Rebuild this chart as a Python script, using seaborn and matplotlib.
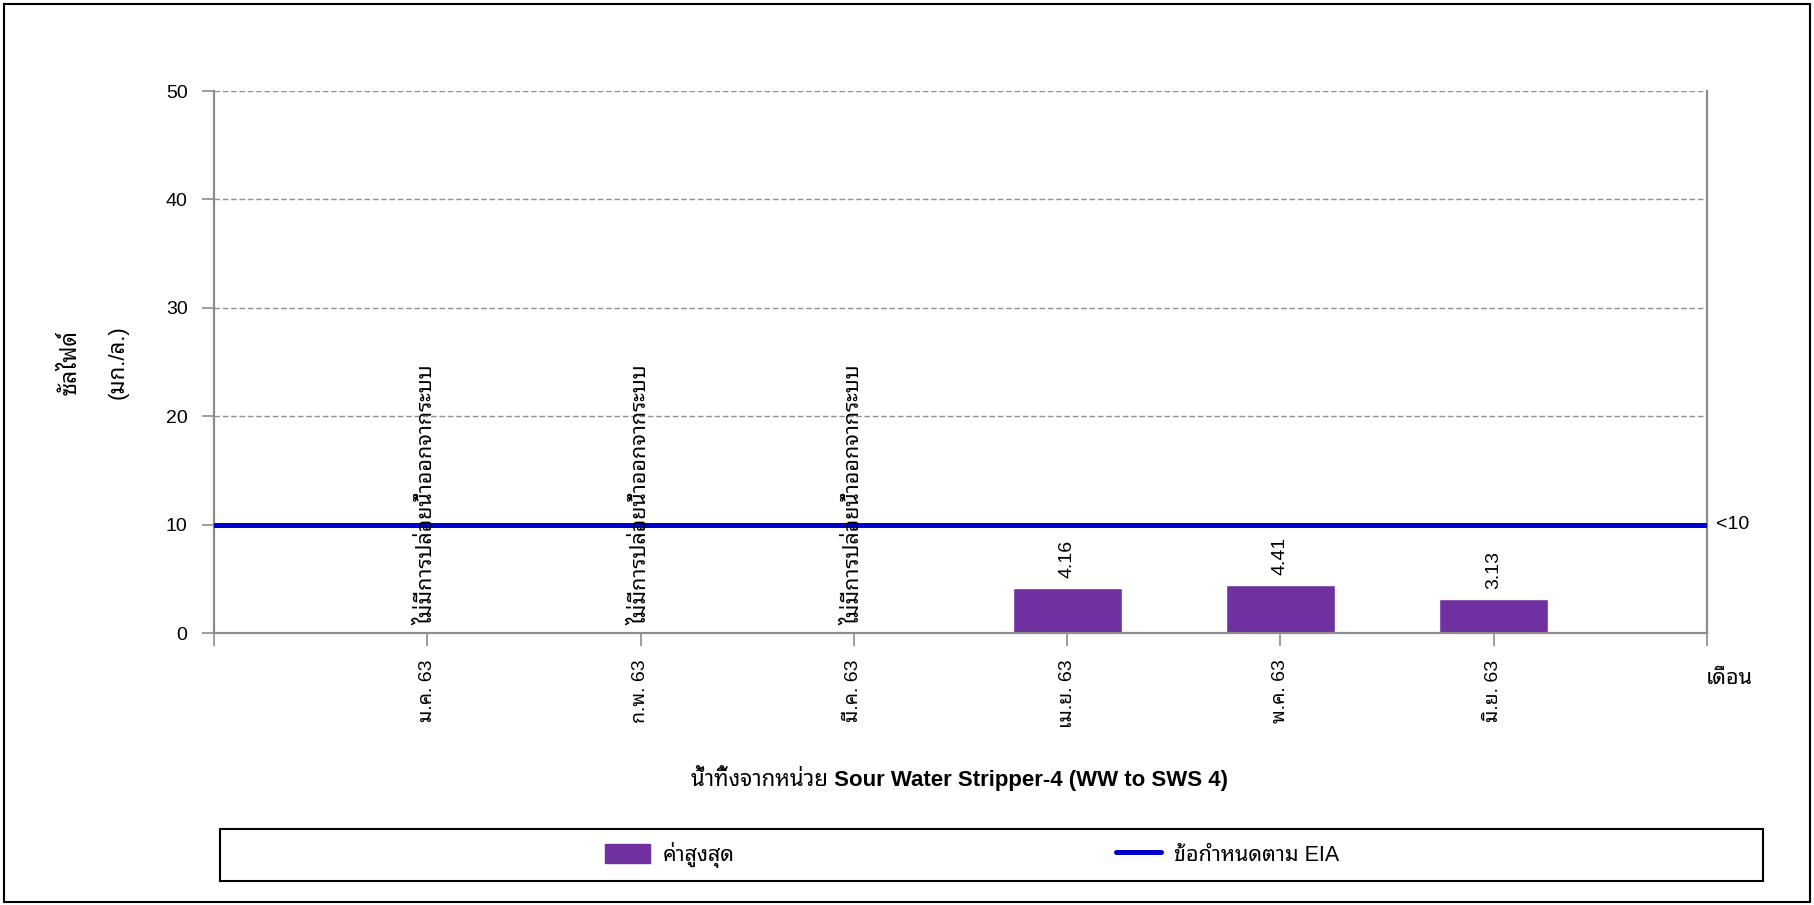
import matplotlib
matplotlib.use("Agg")
import matplotlib.pyplot as plt
import matplotlib.transforms as mtransforms
from matplotlib.patches import Patch, Rectangle
from matplotlib.lines import Line2D
import pandas as pd
import seaborn as sns

# ---- data ----
months = ["ม.ค. 63", "ก.พ. 63", "มี.ค. 63", "เม.ย. 63", "พ.ค. 63", "มิ.ย. 63"]
max_values = [None, None, None, 4.16, 4.41, 3.13]
no_discharge_text = "ไม่มีการปล่อยน้ำออกจากระบบ"
eia_limit = 10
eia_limit_label = "<10"
y_ticks = [0, 10, 20, 30, 40, 50]

bar_color = "#7030A0"
line_color = "#0000CC"
axis_gray = "#8C8C8C"

sns.set_theme(style="white")
plt.rcParams["font.family"] = ["Liberation Sans", "Noto Sans Thai Looped"]
plt.rcParams["axes.unicode_minus"] = False
plt.rcParams["text.color"] = "black"
plt.rcParams["xtick.labelcolor"] = "black"
plt.rcParams["ytick.labelcolor"] = "black"

W, H = 1815, 905
fig = plt.figure(figsize=(W / 100, H / 100), dpi=100)
ax = fig.add_axes([214 / W, 1 - 633 / H, (1707 - 214) / W, (633 - 91) / H])

df = pd.DataFrame({"month": months, "value": max_values}).dropna()
sns.barplot(data=df, x="month", y="value", order=months, color=bar_color,
            saturation=1, width=0.51, ax=ax)

# EIA limit line across the full axis
ax.axhline(eia_limit, color=line_color, lw=3.6, zorder=4)

ax.set_xlim(-1, len(months))
ax.set_ylim(0, 50)
ax.set_yticks(y_ticks)
ax.set_yticklabels([str(t) for t in y_ticks], fontsize=14)
ax.set_xticks(list(range(-1, len(months) + 1)))
ax.set_xticklabels([""] + months + [""], rotation=90, fontsize=14,
                   va="top", ha="center")
ax.tick_params(axis="both", which="both", direction="out", length=9,
               width=1.2, color=axis_gray, labelcolor="black",
               left=True, bottom=True)
ax.tick_params(axis="x", pad=10)
ax.tick_params(axis="y", pad=10)
ax.set_xlabel("")
ax.set_ylabel("")

ax.yaxis.grid(True, color="#909090", linestyle=(0, (4, 2)), lw=1.0)
ax.set_axisbelow(True)
for side in ["left", "bottom", "right"]:
    ax.spines[side].set_color(axis_gray)
    ax.spines[side].set_linewidth(1.6)
    ax.spines[side].set_visible(True)
ax.spines["top"].set_visible(False)

# value labels above bars, and notes for months without discharge
for i, v in enumerate(max_values):
    if v is None:
        ax.annotate(no_discharge_text, xy=(i, 0), xytext=(0, 6),
                    textcoords="offset points", rotation=90,
                    ha="center", va="bottom", fontsize=15.5, zorder=5)
    else:
        ax.annotate(f"{v:.2f}", xy=(i, v), xytext=(0, 7),
                    textcoords="offset points", rotation=90,
                    ha="center", va="bottom", fontsize=14)

# limit label on the right of the plot
trans = mtransforms.blended_transform_factory(ax.transAxes, ax.transData)
ax.text(1.0 + 9 / (1707 - 214), eia_limit, eia_limit_label, transform=trans,
        ha="left", va="center", fontsize=14)

# axis captions
fig.text(1729 / W, 1 - 679 / H, "เดือน", ha="center", va="center", fontsize=15.5)
fig.text(70 / W, 1 - 362 / H, "ซัลไฟด์", rotation=90, ha="center",
         va="center", fontsize=16.5)
fig.text(118 / W, 1 - 362 / H, "(มก./ล.)", rotation=90, ha="center",
         va="center", fontsize=16)
fig.text(960 / W, 1 - 778 / H,
         "น้ำทิ้งจากหน่วย Sour Water Stripper-4 (WW to SWS 4)",
         ha="center", va="center", fontsize=16, fontweight="bold")

# legend box
fig.patches.append(Rectangle((220 / W, 1 - 881 / H), (1763 - 220) / W,
                             (881 - 829) / H, transform=fig.transFigure,
                             fill=False, edgecolor="black", lw=1.5))
handles = [Patch(facecolor=bar_color, edgecolor=bar_color),
           Line2D([0], [0], color=line_color, lw=3.6)]
fig.legend(handles, ["ค่าสูงสุด", "ข้อกำหนดตาม EIA"], loc="center left",
           bbox_to_anchor=(605 / W, 1 - 855 / H), ncol=2, frameon=False,
           fontsize=15.5, handlelength=2.1, handleheight=1.0,
           handletextpad=0.6, columnspacing=17.7, borderpad=0,
           borderaxespad=0)

# outer frame around the whole figure
fig.patches.append(Rectangle((4 / W, 3 / H), (W - 9) / W, (H - 7) / H,
                             transform=fig.transFigure, fill=False,
                             edgecolor="black", lw=1.5))

fig.savefig("out.png", dpi=100, facecolor="white")
